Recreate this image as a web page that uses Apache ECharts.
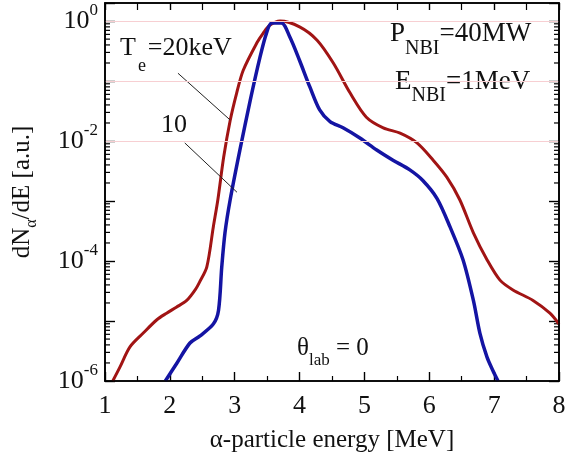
<!DOCTYPE html>
<html>
<head>
<meta charset="utf-8">
<script src="https://cdn.jsdelivr.net/npm/echarts@6/dist/echarts.min.js"></script>
<style>
  html, body { margin: 0; padding: 0; background: #fff; }
  #main { width: 566px; height: 461px; }
</style>
</head>
<body>
<div id="main"></div>
<script>
// alpha-particle spectra, Te = 20 keV (red) and 10 keV (blue)
var energy20 = [1.12, 1.23, 1.385, 1.59, 1.80, 1.95, 2.10, 2.26, 2.39, 2.46, 2.57, 2.67, 2.74, 2.83, 2.93, 3.03, 3.13, 3.34, 3.44, 3.54, 3.70, 4.00, 4.27, 4.52, 4.78, 5.03, 5.29, 5.55, 5.81, 6.06, 6.27, 6.47, 6.68, 6.89, 7.09, 7.29, 7.60, 7.86, 8.00];
var flux20 = [1.0e-6, 1.7e-6, 3.7e-6, 6.3e-6, 1.05e-5, 1.35e-5, 1.7e-5, 2.2e-5, 3.3e-5, 4.5e-5, 8e-5, 3.7e-4, 1.05e-3, 5.4e-3, 0.022, 0.063, 0.15, 0.43, 0.63, 0.85, 1.0, 0.8, 0.48, 0.2, 0.063, 0.025, 0.0166, 0.0135, 0.0093, 0.0048, 0.0025, 1.05e-3, 2.95e-4, 1.05e-4, 4.8e-5, 3.3e-5, 2.2e-5, 1.35e-5, 8.9e-6];

var energy10 = [1.93, 2.11, 2.31, 2.46, 2.67, 2.75, 2.80, 2.85, 2.93, 3.08, 3.24, 3.39, 3.49, 3.57, 3.72, 3.85, 4.00, 4.16, 4.31, 4.47, 4.67, 4.93, 5.19, 5.44, 5.70, 5.90, 6.12, 6.32, 6.52, 6.68, 6.78, 6.89, 6.98, 7.06];
var flux10 = [1e-6, 2e-6, 4.3e-6, 5.6e-6, 8.9e-6, 1.5e-5, 7.9e-5, 2.95e-4, 1.05e-3, 7.1e-3, 0.048, 0.25, 0.63, 0.93, 0.93, 0.54, 0.22, 0.079, 0.033, 0.021, 0.0166, 0.0112, 7.1e-3, 4.8e-3, 3.3e-3, 2.2e-3, 1.1e-3, 3.7e-4, 1.05e-4, 2.2e-5, 6.3e-6, 2.5e-6, 1.5e-6, 1e-6];

// leader lines from the labels to the curves (energy, dN/dE)
var leader20 = [[2.125, 0.135], [2.93, 0.0224]];
var leader10 = [[2.23, 0.0093], [3.035, 0.0014]];

// pink decade grid lines and log minor ticks on the y axis
var gridDecades = [1e-5, 1e-4, 1e-3, 1e-2, 1e-1, 1];
var minorMantissa = [2, 3, 4, 5, 6, 7, 8, 9];
var minorDecades = [-6, -5, -4, -3, -2, -1];

var xTicks = { min: 1, max: 8, interval: 1 };
var yRange = { min: 1e-6, max: 2 };

function pairs(xs, ys) {
  return xs.map(function (x, i) { return [x, ys[i]]; });
}

var minorTickData = [];
minorDecades.forEach(function (d) {
  minorMantissa.forEach(function (m) {
    minorTickData.push([1, m * Math.pow(10, d)]);
  });
});

var serif = 'Liberation Serif';
var ink = '#000';

function frameLine() {
  return { show: true, onZero: false, lineStyle: { color: ink, width: 1.6 } };
}

var chart = echarts.init(document.getElementById('main'));

var option = {
  backgroundColor: '#fff',
  animation: false,
  grid: { left: 105, right: 7, top: 3, bottom: 80, containLabel: false, outerBoundsMode: 'none' },
  xAxis: [
    {
      type: 'value', min: xTicks.min, max: xTicks.max, interval: xTicks.interval,
      axisLine: frameLine(),
      axisTick: { inside: true, length: 9, lineStyle: { color: ink, width: 1.4 } },
      minorTick: { show: true, splitNumber: 2, length: 5, lineStyle: { color: ink, width: 1.2 } },
      axisLabel: { fontFamily: serif, fontSize: 26, color: '#111', margin: 12 },
      splitLine: { show: false }
    },
    {
      type: 'value', position: 'top', min: xTicks.min, max: xTicks.max, interval: xTicks.interval,
      axisLine: frameLine(),
      axisTick: { inside: true, length: 7, lineStyle: { color: ink, width: 1.4 } },
      minorTick: { show: true, splitNumber: 2, length: 7, lineStyle: { color: ink, width: 1.2 } },
      axisLabel: { show: false },
      splitLine: { show: false }
    }
  ],
  yAxis: [
    {
      type: 'log', min: yRange.min, max: yRange.max, interval: 1,
      axisLine: frameLine(),
      axisTick: { inside: true, length: 10, lineStyle: { color: ink, width: 1.4 } },
      axisLabel: {
        margin: 7,
        formatter: function (v) {
          var l = Math.log10(v);
          var e = Math.round(l);
          if (Math.abs(l - e) > 1e-6 || e % 2 !== 0) return '';
          return '{b|10}{s|' + e + '}';
        },
        rich: {
          b: { fontFamily: serif, fontSize: 26, color: '#111', lineHeight: 38 },
          s: { fontFamily: serif, fontSize: 17, color: '#111', lineHeight: 16, verticalAlign: 'top' }
        }
      },
      splitLine: { show: false }
    },
    {
      type: 'log', position: 'right', min: yRange.min, max: yRange.max, interval: 1,
      axisLine: frameLine(),
      axisTick: { inside: true, length: 10, lineStyle: { color: ink, width: 1.4 } },
      axisLabel: { show: false },
      splitLine: { show: false }
    }
  ],
  graphic: [
    {
      // plot frame, same box as the grid
      type: 'rect', z: 100, silent: true,
      shape: { x: 105, y: 3, width: 454, height: 378 },
      style: { fill: 'none', stroke: ink, lineWidth: 1.6 }
    },
    {
      type: 'text', x: 332, y: 440,
      style: { text: 'α-particle energy [MeV]', fontFamily: serif, fontSize: 25, fill: '#111', align: 'center', verticalAlign: 'middle' }
    },
    {
      type: 'text', x: 22, y: 192, rotation: Math.PI / 2,
      style: {
        text: '{m|dN}{s|α}{m|/dE [a.u.]}', align: 'center', verticalAlign: 'middle',
        rich: {
          m: { fontFamily: serif, fontSize: 25, fill: '#111', lineHeight: 36 },
          s: { fontFamily: serif, fontSize: 16, fill: '#111', lineHeight: 14, verticalAlign: 'bottom' }
        }
      }
    },
    {
      type: 'text', x: 120, y: 48,
      style: {
        text: '{m|T}{s|e}{m|=20keV}', verticalAlign: 'middle',
        rich: {
          m: { fontFamily: serif, fontSize: 26, fill: '#111', lineHeight: 54 },
          s: { fontFamily: serif, fontSize: 18, fill: '#111', lineHeight: 14, verticalAlign: 'bottom', padding: [0, 2, 0, 2] }
        }
      }
    },
    {
      type: 'text', x: 161, y: 125,
      style: { text: '10', fontFamily: serif, fontSize: 26, fill: '#111', verticalAlign: 'middle' }
    },
    {
      type: 'text', x: 390, y: 34,
      style: {
        text: '{m|P}{s|NBI}{m|=40MW}', verticalAlign: 'middle',
        rich: {
          m: { fontFamily: serif, fontSize: 27, fill: '#111', lineHeight: 50 },
          s: { fontFamily: serif, fontSize: 20, fill: '#111', lineHeight: 14, verticalAlign: 'bottom' }
        }
      }
    },
    {
      type: 'text', x: 395, y: 82,
      style: {
        text: '{m|E}{s|NBI}{m|=1MeV}', verticalAlign: 'middle',
        rich: {
          m: { fontFamily: serif, fontSize: 27, fill: '#111', lineHeight: 48 },
          s: { fontFamily: serif, fontSize: 20, fill: '#111', lineHeight: 14, verticalAlign: 'bottom' }
        }
      }
    },
    {
      type: 'text', x: 297, y: 348,
      style: {
        text: '{m|θ}{s|lab}{m| = 0}', verticalAlign: 'middle',
        rich: {
          m: { fontFamily: serif, fontSize: 25, fill: '#111', lineHeight: 42 },
          s: { fontFamily: serif, fontSize: 17, fill: '#111', lineHeight: 14, verticalAlign: 'bottom' }
        }
      }
    }
  ],
  series: [
    {
      name: 'decades', type: 'line', data: [], silent: true,
      markLine: {
        silent: true, symbol: 'none', label: { show: false },
        lineStyle: { color: '#f7cfd2', width: 1, type: 'solid' },
        data: gridDecades.map(function (v) { return { yAxis: v }; })
      }
    },
    {
      name: 'minorTicks', type: 'custom',
      data: minorTickData, encode: { x: 0, y: 1 },
      renderItem: function (params, api) {
        var y = api.coord([1, api.value(1)])[1];
        var cs = params.coordSys;
        return {
          type: 'group',
          children: [
            { type: 'line', shape: { x1: cs.x, y1: y, x2: cs.x + 5, y2: y }, style: { stroke: ink, lineWidth: 1.2 } },
            { type: 'line', shape: { x1: cs.x + cs.width, y1: y, x2: cs.x + cs.width - 5, y2: y }, style: { stroke: ink, lineWidth: 1.2 } }
          ]
        };
      }
    },
    {
      name: '20keV', type: 'line', data: pairs(energy20, flux20),
      smooth: 0.3, showSymbol: false, clip: true,
      lineStyle: { color: '#a11414', width: 3 }
    },
    {
      name: '10keV', type: 'line', data: pairs(energy10, flux10),
      smooth: 0.3, showSymbol: false, clip: true,
      lineStyle: { color: '#1414a3', width: 3.5 }
    },
    {
      name: 'leader20', type: 'line', data: leader20, showSymbol: false, silent: true,
      lineStyle: { color: '#222', width: 1 }
    },
    {
      name: 'leader10', type: 'line', data: leader10, showSymbol: false, silent: true,
      lineStyle: { color: '#222', width: 1 }
    }
  ]
};

chart.setOption(option);
</script>
</body>
</html>
